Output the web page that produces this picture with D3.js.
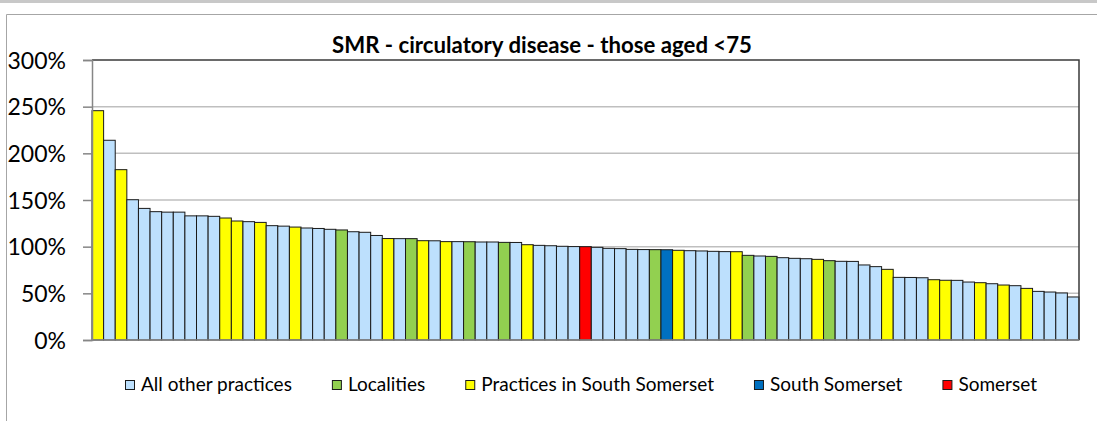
<!DOCTYPE html>
<html><head><meta charset="utf-8">
<script src="https://cdn.jsdelivr.net/npm/d3@7"></script>
<style>body{margin:0;background:#fff;} svg{display:block}</style>
</head><body>
<svg id="c" width="1097" height="421"></svg>
<script>
// ---- data ----
const practices = d3.range(1, 86).map(i => "Practice " + i);
const smrValues = [
  245.7, 214.0, 182.5, 150.3, 141.0, 137.5, 137.0, 137.0, 133.0, 133.0,
  132.5, 130.7, 127.5, 126.8, 126.0, 122.5, 122.0, 121.0, 120.0, 119.5,
  118.6, 117.9, 116.0, 115.4, 112.0, 108.7, 108.6, 108.6, 106.4, 106.3,
  105.4, 105.4, 105.3, 105.0, 105.0, 104.6, 104.5, 102.1, 101.4, 101.0,
  100.4, 100.1, 100.0, 99.3, 98.2, 97.9, 97.1, 96.9, 96.8, 96.7,
  96.1, 95.7, 95.4, 95.0, 94.7, 94.6, 90.7, 90.0, 89.6, 88.2,
  87.5, 87.1, 86.4, 85.0, 84.3, 84.2, 80.4, 78.6, 75.7, 67.1,
  67.0, 66.7, 64.6, 64.0, 63.9, 62.1, 61.4, 60.3, 58.9, 58.2,
  55.3, 52.1, 51.4, 50.4, 46.1
];
// 0 = All other practices, 1 = Localities, 2 = Practices in South Somerset, 3 = South Somerset, 4 = Somerset
const groupOf = [
  2,0,2,0,0,0,0,0,0,0,
  0,2,2,0,2,0,0,2,0,0,
  0,1,0,0,0,2,0,1,2,0,
  2,0,1,0,0,1,0,2,0,0,
  0,0,4,0,0,0,0,0,1,3,
  2,0,0,0,0,2,1,0,1,0,
  0,0,2,1,0,0,0,0,2,0,
  0,0,2,2,0,0,2,0,2,0,
  2,0,0,0,0
];
const legendLabels = ["All other practices", "Localities", "Practices in South Somerset", "South Somerset", "Somerset"];
const groupColors = ["#bde0fd", "#92d050", "#ffff00", "#0070c0", "#ff0000"];
const yTicks = [0, 50, 100, 150, 200, 250, 300];
const titleText = "SMR - circulatory disease - those aged <75";

// ---- drawing ----
const svg = d3.select("#c");
const FONT = "Lato, 'Open Sans', sans-serif";

svg.append("rect").attr("x", 0).attr("y", 0).attr("width", 1097).attr("height", 3).attr("fill", "#c8c8c8");
svg.append("path").attr("d", "M6.5,421V14.5H1097").attr("fill", "none").attr("stroke", "#a6a6a6").attr("stroke-width", 1);

const x = d3.scaleBand().domain(practices).range([92, 1079]).padding(0);
const y = d3.scaleLinear().domain([0, 300]).range([340, 60]);

// gridlines
svg.append("g").selectAll("line").data(yTicks.filter(d => d > 0 && d < 300)).join("line")
  .attr("x1", 92).attr("x2", 1079)
  .attr("y1", d => y(d)).attr("y2", d => y(d))
  .attr("stroke", "#bfbfbf").attr("stroke-width", 1.5);

// bars
svg.append("g").selectAll("rect").data(smrValues).join("rect")
  .attr("x", (d, i) => x(practices[i]))
  .attr("y", d => y(d))
  .attr("width", x.bandwidth())
  .attr("height", d => y(0) - y(d))
  .attr("fill", (d, i) => groupColors[groupOf[i]])
  .attr("stroke", "#1a1a1a").attr("stroke-width", 1);

// plot border top/right
svg.append("path").attr("d", `M92,${y(300)}H1079V${y(0)}`).attr("fill", "none")
  .attr("stroke", "#3a3a3a").attr("stroke-width", 1.5);
// bottom axis line
svg.append("line").attr("x1", 92).attr("x2", 1079).attr("y1", y(0)).attr("y2", y(0))
  .attr("stroke", "#868686").attr("stroke-width", 1.5);

// left axis
const ax = svg.append("g").attr("transform", "translate(92,0)")
  .call(d3.axisLeft(y).tickValues(yTicks).tickFormat(d => d + "%").tickSize(9).tickPadding(17));
ax.select(".domain").attr("stroke", "#868686").attr("stroke-width", 1.5);
ax.selectAll(".tick line").attr("stroke", "#868686").attr("stroke-width", 1.5);
ax.selectAll(".tick text").attr("font-family", FONT).attr("font-size", 23).attr("fill", "#000")
  .attr("dy", "0.36em");

// title
svg.append("text").attr("x", 542).attr("y", 53).attr("text-anchor", "middle")
  .attr("font-family", FONT).attr("font-weight", "bold").attr("font-size", 22)
  .attr("textLength", 420).attr("lengthAdjust", "spacingAndGlyphs")
  .text(titleText);

// legend
const lg = svg.append("g");
let lx = 125;
legendLabels.forEach((lab, i) => {
  lg.append("rect").attr("x", lx + 0.5).attr("y", 380.5).attr("width", 9).attr("height", 9)
    .attr("fill", groupColors[i]).attr("stroke", "#1a1a1a").attr("stroke-width", 1);
  const t = lg.append("text").attr("x", lx + 16).attr("y", 391)
    .attr("font-family", FONT).attr("font-size", 19).attr("fill", "#000").text(lab);
  const w = t.node().getComputedTextLength();
  lx = lx + 16 + w + 40;
});
</script>
</body></html>
